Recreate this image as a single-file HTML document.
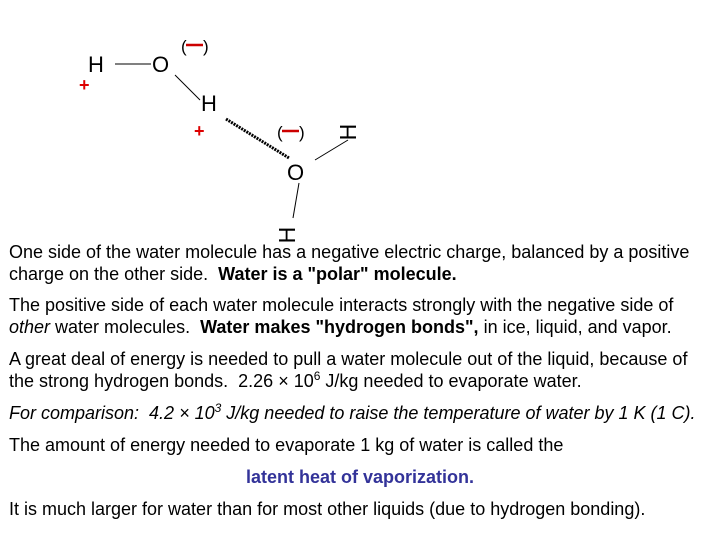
<!DOCTYPE html>
<html><head><style>
body{margin:0;width:720px;height:540px;background:#fff;position:relative;font-family:"Liberation Sans",sans-serif;overflow:hidden}
.t{position:absolute;left:9px;font-size:18px;line-height:22px;color:#000;white-space:nowrap}
sup{font-size:12px;line-height:0;vertical-align:7px}
</style></head><body>
<svg width="720" height="250" style="position:absolute;left:0;top:0" font-family="Liberation Sans, sans-serif">
<text x="88" y="72" font-size="22">H</text>
<line x1="115" y1="64" x2="151" y2="64" stroke="#000" stroke-width="1"/>
<text x="152" y="72" font-size="22">O</text>
<text x="181" y="52" font-size="17">(</text><line x1="186" y1="45" x2="203" y2="45" stroke="#c00" stroke-width="2.5"/><text x="203" y="52" font-size="17">)</text>
<text x="79" y="91" font-size="18" fill="#d00" font-weight="bold">+</text>
<line x1="175" y1="75" x2="200" y2="100" stroke="#000" stroke-width="1"/>
<text x="201" y="111" font-size="22">H</text>
<text x="194" y="137" font-size="18" fill="#d00" font-weight="bold">+</text>
<line x1="226" y1="119" x2="289" y2="158" stroke="#000" stroke-width="3" stroke-dasharray="2,1"/>
<text x="277" y="138" font-size="17">(</text><line x1="282" y1="131" x2="299" y2="131" stroke="#c00" stroke-width="2.5"/><text x="299" y="138" font-size="17">)</text>
<text x="287" y="180" font-size="22">O</text>
<line x1="315" y1="160" x2="348" y2="140" stroke="#000" stroke-width="1"/>
<text font-size="23" transform="translate(356,132) rotate(-90)" text-anchor="middle">H</text>
<line x1="299" y1="183" x2="293" y2="218" stroke="#000" stroke-width="1"/>
<text font-size="23" transform="translate(295,235) rotate(-90)" text-anchor="middle">H</text>
</svg>
<div class="t" style="top:241px">One side of the water molecule has a negative electric charge, balanced by a positive<br>charge on the other side.&nbsp; <b>Water is a "polar" molecule.</b></div>
<div class="t" style="top:294px">The positive side of each water molecule interacts strongly with the negative side of<br><i>other</i> water molecules.&nbsp; <b>Water makes "hydrogen bonds",</b> in ice, liquid, and vapor.</div>
<div class="t" style="top:348px">A great deal of energy is needed to pull a water molecule out of the liquid, because of<br>the strong hydrogen bonds.&nbsp; 2.26 × 10<sup>6</sup> J/kg needed to evaporate water.</div>
<div class="t" style="top:402px"><i>For comparison:&nbsp; 4.2 × 10<sup>3</sup> J/kg needed to raise the temperature of water by 1 K (1 C).</i></div>
<div class="t" style="top:434px">The amount of energy needed to evaporate 1 kg of water is called the</div>
<div class="t" style="top:466px;left:246px;color:#333399"><b>latent heat of vaporization.</b></div>
<div class="t" style="top:498px">It is much larger for water than for most other liquids (due to hydrogen bonding).</div>
</body></html>
